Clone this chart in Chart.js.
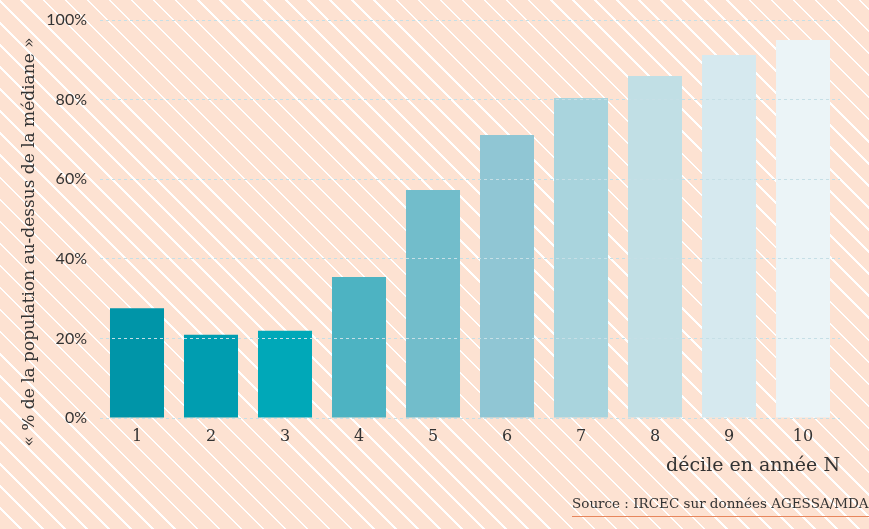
<!DOCTYPE html>
<html lang="fr">
<head>
<meta charset="utf-8">
<script src="https://cdn.jsdelivr.net/npm/chart.js@4"></script>
<style>
  html, body { margin: 0; padding: 0; }
  body {
    width: 869px; height: 529px; overflow: hidden; position: relative;
    background-color: #fde2d2;
    background-image: repeating-linear-gradient(45deg,
      #fde2d2 0px, #fde2d2 13.8px, #ffffff 13.8px, #ffffff 15.6px);
  }
  #wrap { position: absolute; left: 0; top: 0; width: 869px; height: 529px; }
  #source {
    position: absolute; left: 572px; top: 495px; right: 0;
    font: 13.5px "DejaVu Serif", "Liberation Serif", serif; color: #333;
    white-space: nowrap; overflow: hidden;
    padding-bottom: 5px; border-bottom: 1.5px solid #e8865c;
  }
</style>
</head>
<body>
<div id="wrap"><canvas id="chart" width="869" height="529"></canvas></div>
<div id="source">Source : IRCEC sur données AGESSA/MDA</div>
<script>
// ---------- data ----------
const deciles = ['1', '2', '3', '4', '5', '6', '7', '8', '9', '10'];
const shareAboveMedian = [27.6, 20.9, 21.9, 35.4, 57.3, 71.1, 80.4, 85.9, 91.2, 95.0];
const barColors = ['#0095a8', '#009db0', '#00a8b8', '#4db3c2', '#72bdcb',
                   '#90c6d4', '#a9d4dd', '#c1dfe5', '#d6e9ef', '#ebf4f7'];
const yTicks = [0, 20, 40, 60, 80, 100];

const serif = '"DejaVu Serif", "Liberation Serif", serif';

// rotated y title, drawn by hand so it sits where the original one does
const yTitle = {
  id: 'yTitle',
  afterDraw(c) {
    const ctx = c.ctx;
    ctx.save();
    ctx.translate(30, 242);
    ctx.rotate(-Math.PI / 2);
    ctx.font = '17px ' + serif;
    ctx.fillStyle = '#333';
    ctx.textAlign = 'center';
    ctx.textBaseline = 'middle';
    ctx.fillText('« % de la population au-dessus de la médiane »', 0, 0);
    ctx.restore();
  }
};

new Chart(document.getElementById('chart'), {
  type: 'bar',
  data: {
    labels: deciles,
    datasets: [{
      data: shareAboveMedian,
      backgroundColor: barColors,
      categoryPercentage: 1,
      barPercentage: 0.73
    }]
  },
  options: {
    responsive: false,
    animation: false,
    layout: { padding: { top: 20, right: 29, left: 0, bottom: 0 } },
    plugins: { legend: { display: false }, tooltip: { enabled: false } },
    scales: {
      x: {
        grid: { display: false, drawTicks: false },
        border: { display: false },
        ticks: { color: '#333', font: { family: serif, size: 16 }, padding: 9 },
        title: {
          display: true, text: 'décile en année N', align: 'end',
          color: '#333', font: { family: serif, size: 19 },
          padding: { top: 0, bottom: 52 }
        },
        afterFit(s) { s.height = 111; }
      },
      y: {
        min: 0, max: 100,
        afterBuildTicks(s) { s.ticks = yTicks.map(v => ({ value: v })); },
        grid: { color: '#c6dfe6', lineWidth: 1, drawTicks: false, z: 1 },
        border: { display: false, dash: [3, 3] },
        ticks: {
          color: '#333', font: { family: 'Lato', size: 16 }, padding: 13,
          callback: v => v + '%'
        },
        afterFit(s) { s.width = 100; s.paddingTop = 0; s.paddingBottom = 0; }
      }
    }
  },
  plugins: [yTitle]
});
</script>
</body>
</html>
